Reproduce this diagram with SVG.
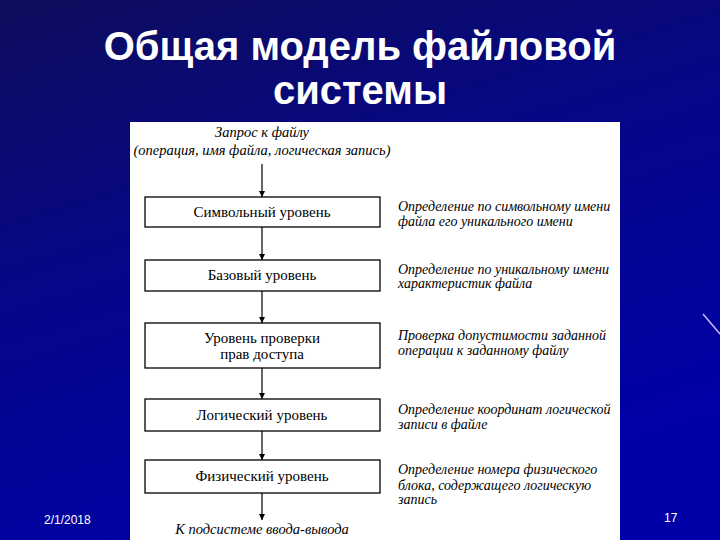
<svg xmlns="http://www.w3.org/2000/svg" width="720" height="540" viewBox="0 0 720 540">
<defs>
<linearGradient id="bg" x1="0" y1="0" x2="0.4" y2="1">
<stop offset="0" stop-color="#0d0d5c"/>
<stop offset="0.5" stop-color="#06068a"/>
<stop offset="1" stop-color="#0000a6"/>
</linearGradient>
<marker id="ah" viewBox="0 0 8 8" refX="8" refY="4" markerWidth="6" markerHeight="6" orient="auto" markerUnits="userSpaceOnUse">
<path d="M0,0 L8,4 L0,8 Z" fill="#000"/>
</marker>
<style>
.title{font-family:"Liberation Sans",Arial,sans-serif;font-weight:bold;font-size:40px;fill:#fff;text-anchor:middle}
.foot{font-family:"Liberation Sans",Arial,sans-serif;font-size:12px;fill:#fff}
.box{fill:#fff;stroke:#000;stroke-width:1.3}
.lbl{font-family:"Liberation Serif","Times New Roman",serif;font-size:15px;fill:#000;text-anchor:middle}
.it{font-family:"Liberation Serif","Times New Roman",serif;font-style:italic;font-size:14px;fill:#000}
.itc{font-family:"Liberation Serif","Times New Roman",serif;font-style:italic;font-size:14.5px;fill:#000;text-anchor:middle}
.conn line{stroke:#000;stroke-width:1.2;marker-end:url(#ah)}
</style>
</defs>
<rect width="720" height="540" fill="url(#bg)"/>
<line x1="703" y1="314" x2="720" y2="334" stroke="#c8b8ff" stroke-width="1.5"/>
<text class="title" x="360" y="60">Общая модель файловой</text>
<text class="title" x="360" y="104">системы</text>
<rect x="130" y="122" width="490" height="418" fill="#fff"/>
<g id="request">
<text class="itc" x="262" y="137">Запрос к файлу</text>
<text class="itc" x="262" y="155">(операция, имя файла, логическая запись)</text>
</g>
<g class="conn" id="connectors">
<line x1="262" y1="164" x2="262" y2="197"/>
<line x1="262" y1="227" x2="262" y2="260"/>
<line x1="262" y1="291" x2="262" y2="323"/>
<line x1="262" y1="368" x2="262" y2="399"/>
<line x1="262" y1="431" x2="262" y2="460"/>
<line x1="262" y1="493" x2="262" y2="520"/>
</g>
<g id="symbolic">
<rect class="box" x="145" y="197" width="235" height="30"/>
<text class="lbl" x="262" y="217">Символьный уровень</text>
</g>
<g id="basic">
<rect class="box" x="145" y="260" width="235" height="31"/>
<text class="lbl" x="262" y="280">Базовый уровень</text>
</g>
<g id="access">
<rect class="box" x="145" y="323" width="235" height="45"/>
<text class="lbl" x="262" y="343">Уровень проверки</text>
<text class="lbl" x="262" y="359">прав доступа</text>
</g>
<g id="logical">
<rect class="box" x="145" y="399" width="235" height="32"/>
<text class="lbl" x="262" y="420">Логический уровень</text>
</g>
<g id="physical">
<rect class="box" x="145" y="460" width="235" height="33"/>
<text class="lbl" x="262" y="481">Физический уровень</text>
</g>
<g id="io">
<text class="itc" x="262" y="534">К подсистеме ввода-вывода</text>
</g>
<g id="desc1">
<text class="it" x="398" y="211">Определение по символьному имени</text>
<text class="it" x="398" y="226">файла его уникального имени</text>
</g>
<g id="desc2">
<text class="it" x="398" y="274">Определение по уникальному имени</text>
<text class="it" x="398" y="288">характеристик файла</text>
</g>
<g id="desc3">
<text class="it" x="398" y="340">Проверка допустимости заданной</text>
<text class="it" x="398" y="355">операции к заданному файлу</text>
</g>
<g id="desc4">
<text class="it" x="398" y="414">Определение координат логической</text>
<text class="it" x="398" y="429">записи в файле</text>
</g>
<g id="desc5">
<text class="it" x="398" y="474">Определение номера физического</text>
<text class="it" x="398" y="490">блока, содержащего логическую</text>
<text class="it" x="398" y="504">запись</text>
</g>
<text class="foot" x="44" y="524">2/1/2018</text>
<text class="foot" x="664" y="522">17</text>
</svg>
